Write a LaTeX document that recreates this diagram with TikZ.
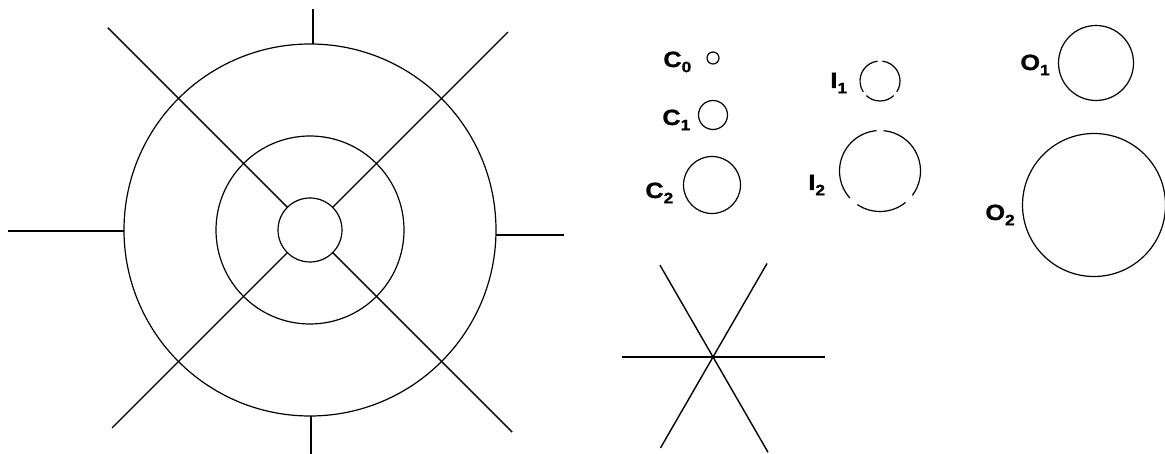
\documentclass[tikz,border=0pt]{standalone}
\usepackage{fontspec}
\newfontfamily\labelfont[FakeStretch=1.15, BoldFeatures={FakeBold=1.2}]{Liberation Sans}
\newcommand{\lsub}[1]{\raisebox{-2.6pt}{\fontsize{7.5}{8}\selectfont #1}}

\begin{document}
\begin{tikzpicture}[x=0.5pt, y=0.5pt,
    ring/.style={line width=0.6pt},
    spoke/.style={line width=0.7pt},
    lbl/.style={font=\labelfont\bfseries\fontsize{11}{12}\selectfont,
                inner sep=0pt, anchor=base west}]

    % --- Configuration ---
    \def\rIn{32}   % hub
    \def\rMid{94}  % middle ring
    \def\rOut{186} % outer ring

    \useasboundingbox (0,0) rectangle (1165,454);

    % --- Web (left) ---
    \coordinate (web) at (310,224);
    \draw[ring] (web) circle (\rIn);
    \draw[ring] (web) circle (\rMid);
    \draw[ring] (web) circle (\rOut);

    % Diagonal spokes, from hub outwards
    \foreach \a/\len in {45/280, 135/286, 225/280, 315/286}
        \draw[spoke] ([shift={(\a:\rIn)}]web) -- ([shift={(\a:\len)}]web);

    % Short ticks on the outer ring
    \draw[spoke] ([shift={(3,\rOut)}]web) -- ++(0,35);
    \draw[spoke] ([shift={(1,-\rOut)}]web) -- ++(0,-40);
    \draw[line width=0.9pt] ([shift={(-\rOut,-1)}]web) -- ++(-116,0);
    \draw[spoke] ([shift={(\rOut,-5)}]web) -- ++(68,0);

    % --- Star (bottom middle) ---
    \coordinate (star) at (713,97);
    \foreach \a/\len in {0/112, 60/108, 120/106, 180/91, 240/105, 300/110}
        \draw[spoke] (star) -- ++(\a:\len);

    % --- C circles ---
    \coordinate (c0) at (713,396);
    \coordinate (c1) at (713,339);
    \coordinate (c2) at (712,269);
    \draw[ring] (c0) circle (6);
    \draw[ring] (c1) circle (14.5);
    \draw[ring] (c2) circle (28.5);
    \node[lbl] (c0lbl) at (663,387) {C\lsub{0}};
    \node[lbl] (c1lbl) at (662,329) {C\lsub{1}};
    \node[lbl] (c2lbl) at (645,256) {C\lsub{2}};

    % --- I circles (broken) ---
    \coordinate (i1) at (880,373);
    \coordinate (i2) at (880,283);
    \foreach \s/\e in {97/213, 227/313, 327/443}
        \draw[ring] ([shift={(\s:20)}]i1) arc (\s:\e:20);
    \foreach \s/\e in {95/222, 236/309, 323/445}
        \draw[ring] ([shift={(\s:40.5)}]i2) arc (\s:\e:40.5);
    \node[lbl] (i1lbl) at (830,366) {I\lsub{1}};
    \node[lbl] (i2lbl) at (808,264) {I\lsub{2}};

    % --- O circles ---
    \coordinate (o1) at (1096,391);
    \coordinate (o2) at (1094,249);
    \draw[ring] (o1) circle (37.5);
    \draw[ring] (o2) circle (71.5);
    \node[lbl] (o1lbl) at (1020,384) {O\lsub{1}};
    \node[lbl] (o2lbl) at (985,234) {O\lsub{2}};

\end{tikzpicture}
\end{document}
